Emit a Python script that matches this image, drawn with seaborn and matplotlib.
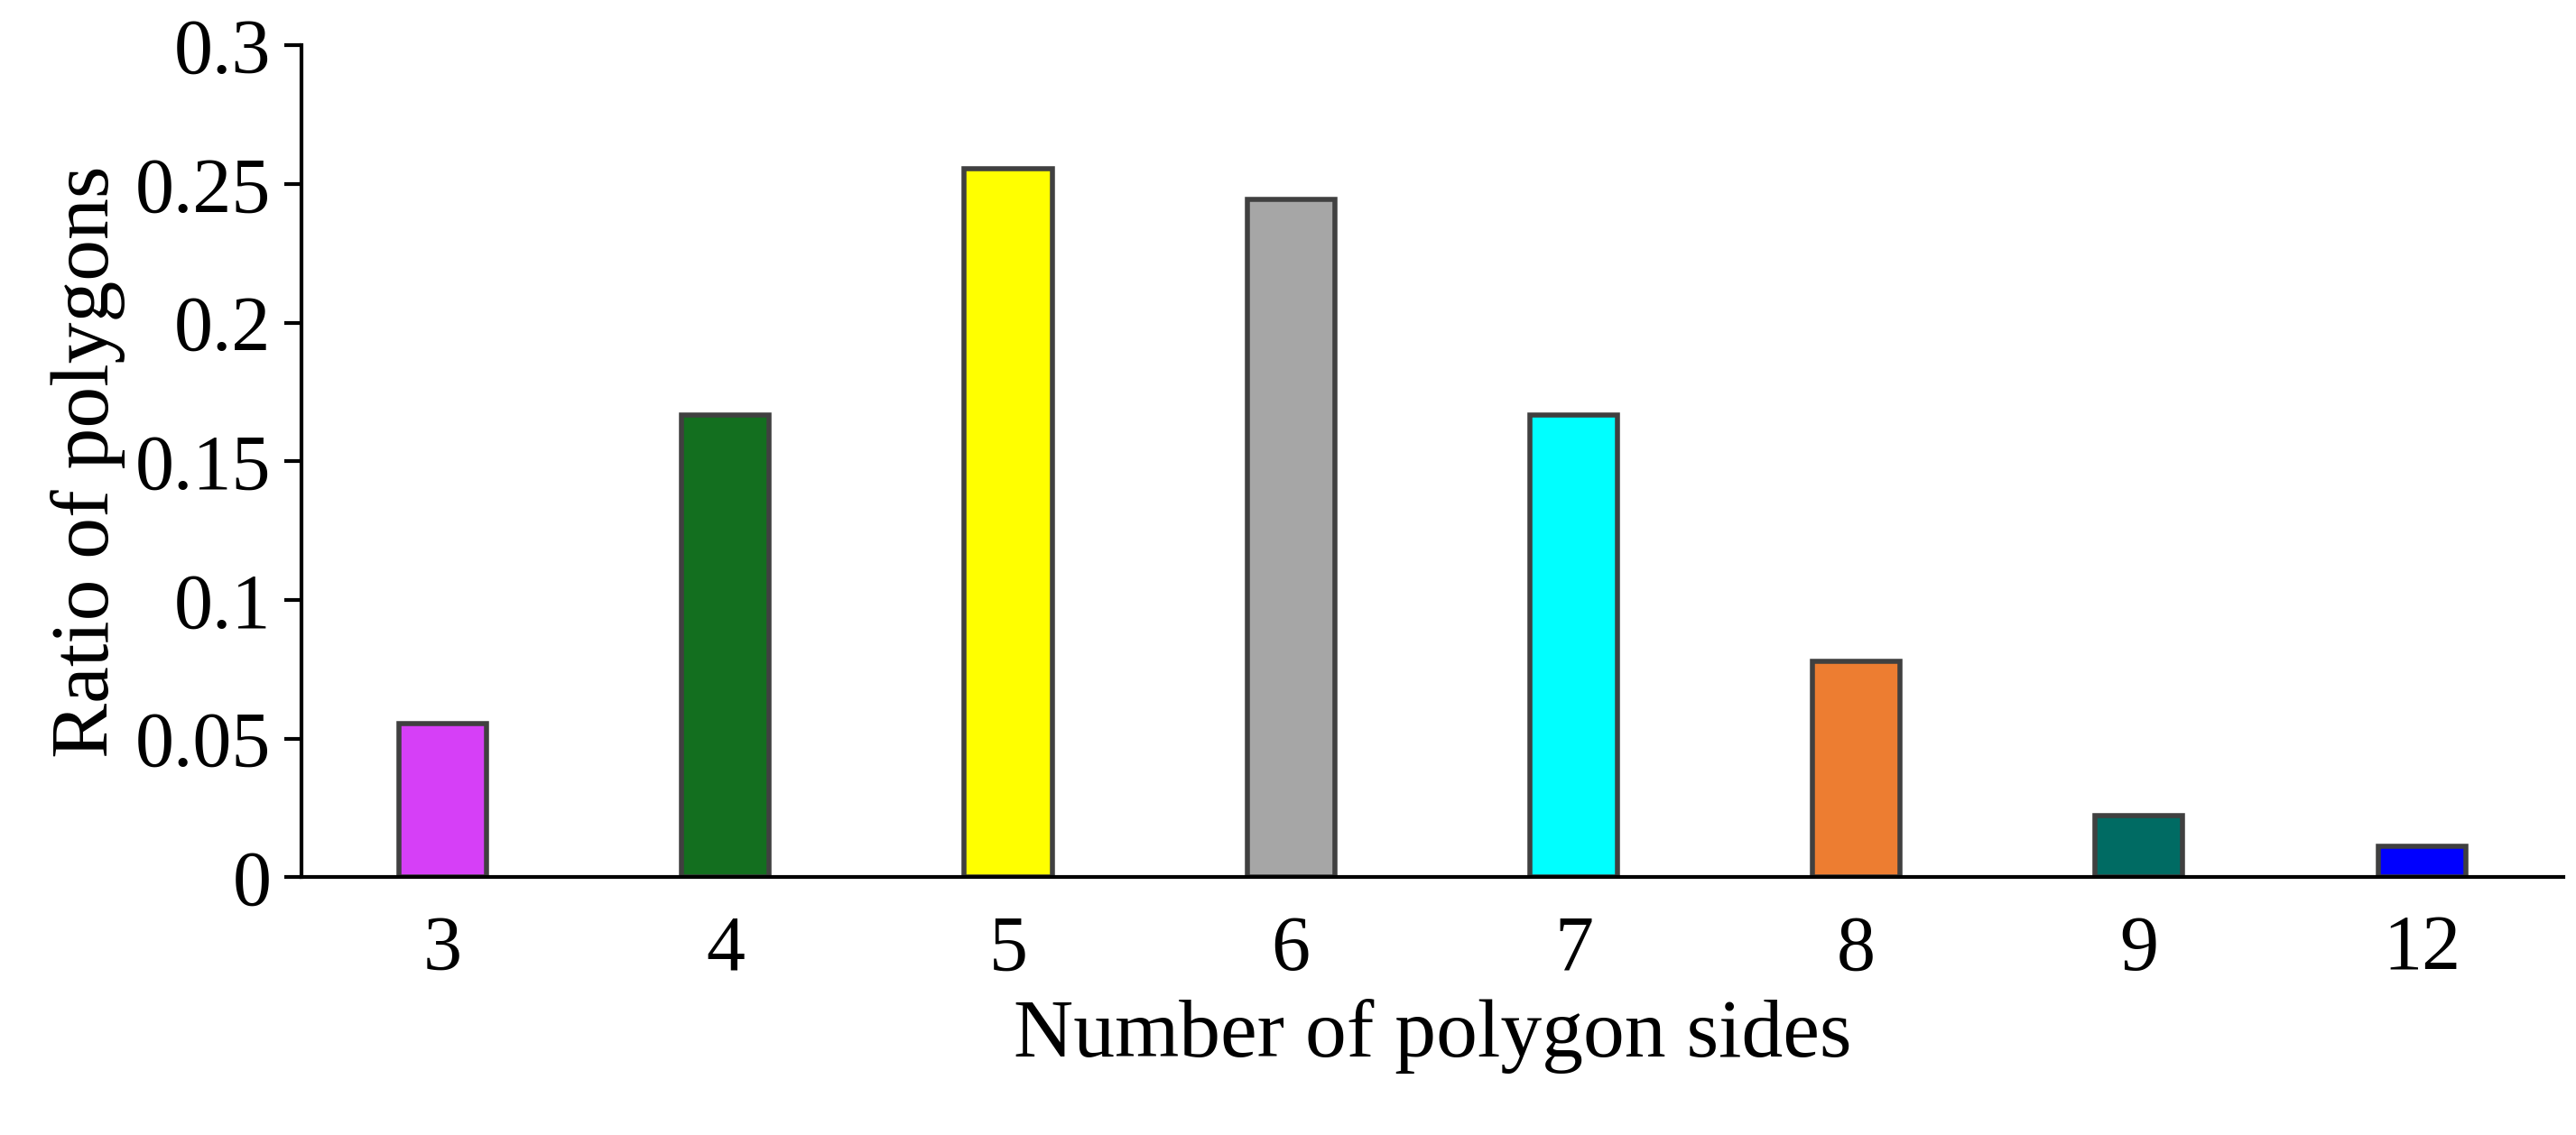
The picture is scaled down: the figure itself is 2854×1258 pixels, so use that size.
import matplotlib
matplotlib.use('Agg')
import matplotlib.pyplot as plt
import seaborn as sns
import pandas as pd

# polygon side counts and their ratios
sides = ['3', '4', '5', '6', '7', '8', '9', '12']
ratios = [0.0556, 0.1667, 0.2556, 0.2444, 0.1667, 0.0778, 0.0222, 0.0111]
colors = ['#d63ff7', '#136f1f', '#ffff00', '#a6a6a6', '#00ffff', '#ed7d31', '#006b63', '#0000ff']

df = pd.DataFrame({'sides': sides, 'ratio': ratios})

sns.set_style('white')
plt.rcParams['font.family'] = ['Liberation Serif', 'DejaVu Serif']
plt.rcParams['text.color'] = 'black'
plt.rcParams['axes.labelcolor'] = 'black'
plt.rcParams['xtick.color'] = 'black'
plt.rcParams['ytick.color'] = 'black'

fig = plt.figure(figsize=(28.54, 12.58), dpi=100)
ax = fig.add_axes([0.117, 0.227, 0.878, 0.733])

sns.barplot(data=df, x='sides', y='ratio', hue='sides', palette=colors, legend=False,
            saturation=1, width=0.31, edgecolor='#404040', linewidth=4, ax=ax)

ax.set_ylim(0, 0.3)
ax.set_xlim(-0.5, 7.5)
ax.set_yticks([0, 0.05, 0.1, 0.15, 0.2, 0.25, 0.3])
ax.set_yticklabels(['0', '0.05', '0.1', '0.15', '0.2', '0.25', '0.3'])
for s in ['top', 'right']:
    ax.spines[s].set_visible(False)
for s in ['left', 'bottom']:
    ax.spines[s].set_color('black')
    ax.spines[s].set_linewidth(3)
ax.tick_params(axis='y', direction='out', length=14, width=3, labelsize=62, pad=10, left=True)
ax.tick_params(axis='x', length=0, labelsize=62, pad=30)
ax.set_xlabel('Number of polygon sides', fontsize=66, labelpad=10)
ax.set_ylabel('Ratio of polygons', fontsize=66, labelpad=8)

fig.savefig('out.png', dpi=100)
